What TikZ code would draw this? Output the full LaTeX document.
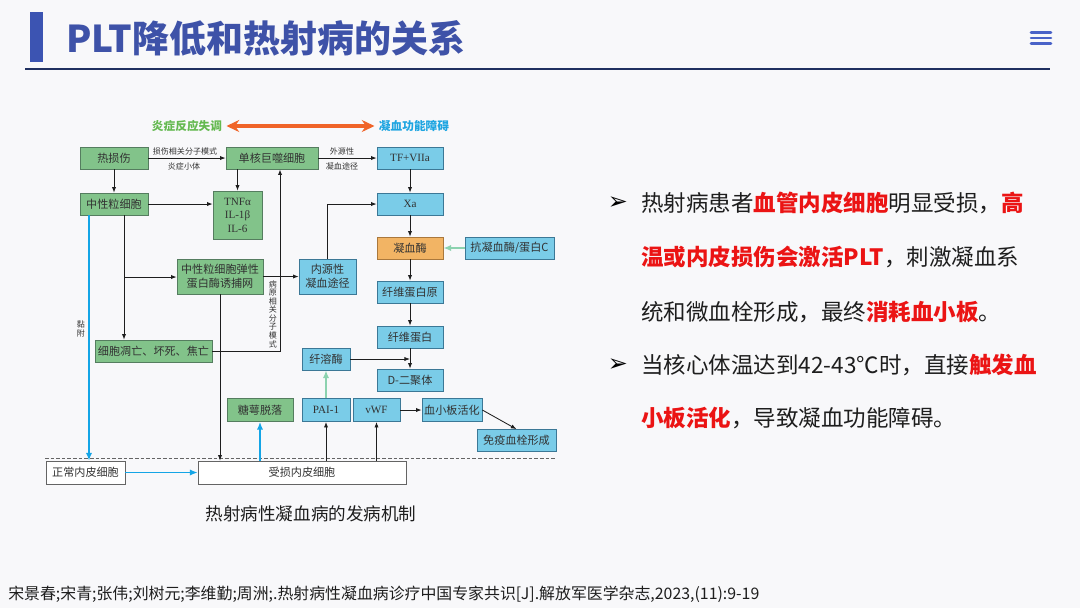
\documentclass[tikz,border=0pt]{standalone}
\usepackage{fontspec}
\setmainfont{Noto Sans CJK SC}
\newfontfamily\ser{Liberation Serif}
\newfontfamily\djv{DejaVu Sans}
\usetikzlibrary{arrows.meta}
\definecolor{bgc}{RGB}{248,248,250}
\definecolor{titlec}{RGB}{62,82,168}
\definecolor{barc}{RGB}{60,84,178}
\definecolor{rulec}{RGB}{32,48,96}
\definecolor{menuc}{RGB}{74,99,200}
\definecolor{gfill}{RGB}{130,195,138}
\definecolor{gborder}{RGB}{85,125,95}
\definecolor{bfill}{RGB}{122,204,232}
\definecolor{bborder}{RGB}{60,120,150}
\definecolor{ofill}{RGB}{242,180,100}
\definecolor{oborder}{RGB}{170,120,60}
\definecolor{wborder}{RGB}{100,100,100}
\definecolor{txt}{RGB}{50,50,50}
\definecolor{arrowc}{RGB}{30,30,30}
\definecolor{bluec}{RGB}{20,165,230}
\definecolor{lgreen}{RGB}{140,210,175}
\definecolor{hgreen}{RGB}{100,185,80}
\definecolor{hblue}{RGB}{30,165,225}
\definecolor{oarrow}{RGB}{240,100,40}
\definecolor{redc}{RGB}{235,20,20}
\definecolor{bodyc}{RGB}{30,30,30}
\begin{document}
\begin{tikzpicture}[x=0.025cm,y=-0.025cm,
  wh/.style 2 args={minimum width=#1*0.025cm, minimum height=#2*0.025cm},
  boxbase/.style={line width=0.5pt, inner sep=0pt, align=center, text=txt,
     font=\fontsize{7.9}{9.6}\selectfont},
  gbox/.style={boxbase, draw=gborder, fill=gfill},
  bbox/.style={boxbase, draw=bborder, fill=bfill},
  obox/.style={boxbase, draw=oborder, fill=ofill},
  wbox/.style={boxbase, draw=wborder, fill=white},
  lab/.style={inner sep=0pt, align=center, text=txt, font=\fontsize{5.7}{6.1}\selectfont},
  arr/.style={draw=arrowc, line width=0.6pt, -{Latex[length=4pt,width=3pt]}},
  barr/.style={draw=bluec, line width=1.1pt, -{Latex[length=5.5pt,width=4.5pt]}},
  garr/.style={draw=lgreen, line width=1.1pt, -{Latex[length=5.5pt,width=4.5pt]}},
  body/.style={anchor=west, inner sep=0pt, text=bodyc, font=\fontsize{16}{19}\selectfont},
  bullet/.style={inner sep=0pt, text=black, font=\djv\fontsize{17}{19}\selectfont}
]
\useasboundingbox (0,0) rectangle (1080,608);
\fill[bgc] (0,0) rectangle (1080,608);

% title
\fill[barc] (30,12) rectangle (43,62);
\node[anchor=west, inner sep=0pt, text=titlec, font=\fontsize{26.3}{29}\selectfont\bfseries] (title) at (66,38) {PLT降低和热射病的关系};
\draw[rulec, line width=2pt] (25,69) -- (1050,69);
\foreach \yy in {32.5,38,43.5} \draw[menuc, line width=1.8pt, line cap=round] (1031,\yy) -- (1051,\yy);

% header
\node[inner sep=3pt, text=hgreen, font=\fontsize{8.3}{10}\selectfont\bfseries] (hleft) at (187,126) {炎症反应失调};
\node[inner sep=3pt, text=hblue, font=\fontsize{8.3}{10}\selectfont\bfseries] (hright) at (414,126) {凝血功能障碍};
\draw[oarrow, line width=2.8pt, {Stealth[length=9pt,width=8.5pt]}-{Stealth[length=9pt,width=8.5pt]}] (hleft.east) -- (hright.west);

% boxes
\node[gbox,wh={68}{22}] (heat) at (114,158) {热损伤};
\node[gbox,wh={92}{22}] (mono) at (272,158) {单核巨噬细胞};
\node[bbox,wh={66}{22}] (tf) at (410,158) {\ser TF+VIIa};
\node[bbox,wh={66}{22}] (xa) at (410,204) {\ser Xa};
\node[obox,wh={66}{22}] (thr) at (410,248) {凝血酶};
\node[bbox,wh={89}{22}] (anti) at (509.5,248) {抗凝血酶/蛋白C};
\node[bbox,wh={66}{22}] (fgn) at (410,292) {纤维蛋白原};
\node[bbox,wh={66}{22}] (fib) at (410,337) {纤维蛋白};
\node[bbox,wh={66}{22}] (dd) at (410,380) {D-二聚体};
\node[bbox,wh={48}{22}] (pls) at (326,359) {纤溶酶};
\node[bbox,wh={48}{23}] (pai) at (326,410) {\ser PAI-1};
\node[bbox,wh={47}{23}] (vwf) at (376.5,410) {\ser vWF};
\node[bbox,wh={60}{23}] (pact) at (452,410) {血小板活化};
\node[bbox,wh={79}{22}] (imm) at (516.5,440.5) {免疫血栓形成};
\node[gbox,wh={68}{22}] (neut) at (114,204) {中性粒细胞};
\node[gbox,wh={49}{48}] (tnf) at (237.5,215) {\ser TNFα\\\ser IL-1β\\\ser IL-6};
\node[gbox,wh={86}{35}] (net) at (220,276.5) {中性粒细胞弹性\\蛋白酶诱捕网};
\node[bbox,wh={57}{35}] (intr) at (327.5,276.5) {内源性\\凝血途径};
\node[gbox,wh={117}{22}] (apop) at (153.5,351) {细胞凋亡、坏死、焦亡};
\node[gbox,wh={66}{23}] (gly) at (260,410) {糖萼脱落};
\node[wbox,wh={208}{23}] (dmg) at (302,472.5) {受损内皮细胞};
\node[wbox,wh={79}{23}] (norm) at (85.5,472.5) {正常内皮细胞};

% labels
\node[lab] (l1) at (185,151) {损伤相关分子模式};
\node[lab] (l2) at (184,166) {炎症小体};
\node[lab] (l3) at (342,151) {外源性};
\node[lab] (l4) at (342,166) {凝血途径};
\node[lab] (l5) at (273,314) {病\\原\\相\\关\\分\\子\\模\\式};
\node[lab] (l6) at (81,329) {黏\\附};

% coordinates
\coordinate (c1) at (124,215);
\coordinate (c2) at (124,277);
\coordinate (c3) at (280,351);
\coordinate (c4) at (89,215);
\coordinate (d1) at (45,458);
\coordinate (d2) at (556,458);

% dashed boundary
\draw[wborder, line width=0.6pt, dash pattern=on 2.5pt off 1.5pt] (d1) -- (d2);

% connectors
\draw[arr] (heat) -- (mono);
\draw[arr] (mono) -- (tf);
\draw[arr] (tf) -- (xa);
\draw[arr] (xa) -- (thr);
\draw[arr] (thr) -- (fgn);
\draw[arr] (fgn) -- (fib);
\draw[arr] (fib) -- (dd);
\draw[garr] (anti) -- (thr);
\draw[arr] (heat) -- (neut);
\draw[arr] (neut.east) -- (neut.east -| tnf.west);
\draw[arr] (mono.south -| tnf.north) -- (tnf.north);
\draw[arr] (c1) -- (c1 |- apop.north);
\draw[arr] (c2) -- (c2 -| net.west);
\draw[arr] (net.east) -- (intr.west);
\draw[arr] (intr.north) |- (xa.west);
\draw[arr] (apop.east) -- (c3) -- (c3 |- mono.south);
\draw[arr] (net.south) -- (net.south |- dmg.north);
\draw[barr] (c4) -- (c4 |- norm.north);
\draw[barr] (norm.east) -- (dmg.west);
\draw[barr] (dmg.north -| gly.south) -- (gly.south);
\draw[arr] (dmg.north -| pai.south) -- (pai.south);
\draw[arr] (dmg.north -| vwf.south) -- (vwf.south);
\draw[garr] (pai) -- (pls);
\draw[arr] (pls.east) -- (pls.east -| dd.north);
\draw[arr] (vwf) -- (pact);
\draw[arr] (pact.east) -- (imm.north);

% caption
\node[inner sep=0pt, text=bodyc, font=\fontsize{12.5}{14}\selectfont] (cap) at (311,514) {热射病性凝血病的发病机制};

% right text
\node[bullet] (b1) at (618,203) {➢};
\node[bullet] (b2) at (618,365) {➢};
\node[body] (t1) at (641,203) {热射病患者{\color{redc}\bfseries 血管内皮细胞}明显受损，{\color{redc}\bfseries 高}};
\node[body] (t2) at (641,257) {{\color{redc}\bfseries 温或内皮损伤会激活PLT}，刺激凝血系};
\node[body] (t3) at (641,312) {统和微血栓形成，最终{\color{redc}\bfseries 消耗血小板}。};
\node[body] (t4) at (641,365) {当核心体温达到42-43℃时，直接{\color{redc}\bfseries 触发血}};
\node[body] (t5) at (641,418) {{\color{redc}\bfseries 小板活化}，导致凝血功能障碍。};

% citation
\node[anchor=west, inner sep=0pt, text=bodyc, font=\fontsize{11.3}{13}\selectfont] (cite) at (8,594) {宋景春;宋青;张伟;刘树元;李维勤;周洲;.热射病性凝血病诊疗中国专家共识[J].解放军医学杂志,2023,(11):9-19};
\end{tikzpicture}
\end{document}
